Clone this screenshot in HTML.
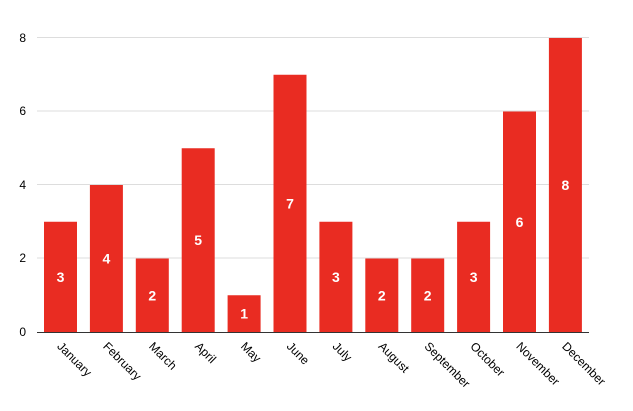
<!DOCTYPE html>
<html><head><meta charset="utf-8"><style>body{margin:0;background:#fff}svg{display:block}</style></head><body>
<svg width="633" height="411" xmlns="http://www.w3.org/2000/svg" font-family="Liberation Sans, Helvetica, sans-serif">
<g stroke="#dddddd" stroke-width="1">
<line x1="37" y1="37.5" x2="589" y2="37.5"/>
<line x1="37" y1="111" x2="589" y2="111"/>
<line x1="37" y1="184.5" x2="589" y2="184.5"/>
<line x1="37" y1="258" x2="589" y2="258"/>
</g>
<g font-size="12" fill="#000" text-anchor="end">
<text x="26" y="42">8</text><text x="26" y="115">6</text><text x="26" y="189">4</text><text x="26" y="262">2</text><text x="26" y="336">0</text>
</g>
<g fill="#e92c22">
<rect x="44" y="221.75" width="33" height="110.25"/>
<rect x="89.9" y="185" width="33" height="147"/>
<rect x="135.8" y="258.5" width="33" height="73.5"/>
<rect x="181.7" y="148.25" width="33" height="183.75"/>
<rect x="227.6" y="295.25" width="33" height="36.75"/>
<rect x="273.5" y="74.75" width="33" height="257.25"/>
<rect x="319.4" y="221.75" width="33" height="110.25"/>
<rect x="365.3" y="258.5" width="33" height="73.5"/>
<rect x="411.2" y="258.5" width="33" height="73.5"/>
<rect x="457.1" y="221.75" width="33" height="110.25"/>
<rect x="503" y="111.5" width="33" height="220.5"/>
<rect x="548.9" y="38" width="33" height="294"/>
</g>
<g fill="#fff" font-size="14" font-weight="bold" text-anchor="middle">
<text x="60.5" y="282">3</text>
<text x="106.4" y="263.5">4</text>
<text x="152.3" y="300.5">2</text>
<text x="198.2" y="245">5</text>
<text x="244.1" y="318.5">1</text>
<text x="290" y="208.5">7</text>
<text x="335.9" y="282">3</text>
<text x="381.8" y="300.5">2</text>
<text x="427.7" y="300.5">2</text>
<text x="473.6" y="282">3</text>
<text x="519.5" y="227">6</text>
<text x="565.4" y="190">8</text>
</g>
<line x1="37" y1="332.5" x2="589" y2="332.5" stroke="#333" stroke-width="1"/>
<g font-size="12" fill="#000">
<text transform="translate(56.5,347) rotate(45)">January</text>
<text transform="translate(102.4,347) rotate(45)">February</text>
<text transform="translate(148.3,347) rotate(45)">March</text>
<text transform="translate(194.2,347) rotate(45)">April</text>
<text transform="translate(240.1,347) rotate(45)">May</text>
<text transform="translate(286,347) rotate(45)">June</text>
<text transform="translate(331.9,347) rotate(45)">July</text>
<text transform="translate(377.8,347) rotate(45)">August</text>
<text transform="translate(423.7,347) rotate(45)">September</text>
<text transform="translate(469.6,347) rotate(45)">October</text>
<text transform="translate(515.5,347) rotate(45)">November</text>
<text transform="translate(561.4,347) rotate(45)">December</text>
</g>
</svg>
</body></html>
